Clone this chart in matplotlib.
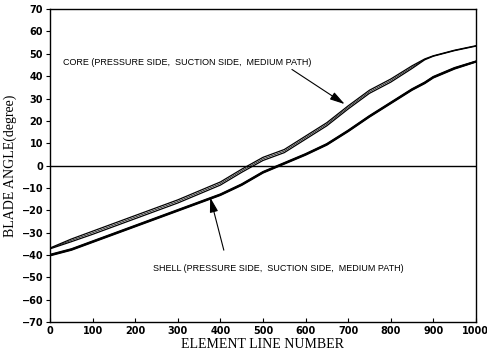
import matplotlib
matplotlib.use("Agg")
import matplotlib.pyplot as plt

# element line numbers where the curves were read off
X_PTS = [0, 50, 100, 150, 200, 250, 300, 350, 400, 450, 500,
         550, 600, 650, 700, 750, 800, 850, 880, 900, 950, 1000]

# core curves (pressure side, suction side, medium path)
CORE_PS = [-36.8, -32.8, -29.3, -25.8, -22.3, -18.8, -15.3, -11.3, -7.3, -1.6, 3.7,
           7.2, 13.2, 19.2, 26.7, 33.7, 38.7, 44.6, 47.7, 49.1, 51.6, 53.6]
CORE_SS = [-37.2, -34.0, -30.7, -27.2, -23.7, -20.2, -16.7, -12.7, -8.7, -3.0, 2.3,
           5.8, 11.8, 17.8, 25.3, 32.3, 37.3, 43.4, 47.3, 48.9, 51.4, 53.4]
CORE_MP = [-37.0, -33.4, -30.0, -26.5, -23.0, -19.5, -16.0, -12.0, -8.0, -2.3, 3.0,
           6.5, 12.5, 18.5, 26.0, 33.0, 38.0, 44.0, 47.5, 49.0, 51.5, 53.5]

# shell curves (pressure side, suction side, medium path)
SHELL_PS = [-39.8, -37.3, -33.8, -30.3, -26.8, -23.3, -19.8, -16.3, -12.8, -8.3, -2.8,
            1.2, 5.2, 9.7, 15.7, 22.2, 28.2, 34.2, 37.2, 39.7, 43.7, 46.6]
SHELL_SS = [-40.2, -37.7, -34.2, -30.7, -27.2, -23.7, -20.2, -16.7, -13.2, -8.7, -3.2,
            0.8, 4.8, 9.3, 15.3, 21.8, 27.8, 33.8, 36.8, 39.3, 43.3, 46.4]
SHELL_MP = [-40.0, -37.5, -34.0, -30.5, -27.0, -23.5, -20.0, -16.5, -13.0, -8.5, -3.0,
            1.0, 5.0, 9.5, 15.5, 22.0, 28.0, 34.0, 37.0, 39.5, 43.5, 46.5]

X_TICKS = list(range(0, 1001, 100))
Y_TICKS = list(range(-70, 71, 10))

CORE_TEXT = "CORE (PRESSURE SIDE,  SUCTION SIDE,  MEDIUM PATH)"
SHELL_TEXT = "SHELL (PRESSURE SIDE,  SUCTION SIDE,  MEDIUM PATH)"


def main():
    fig = plt.figure(figsize=(4.87, 3.62), dpi=100)
    ax = fig.add_axes([0.103, 0.11, 0.874, 0.865])

    for ys in (CORE_PS, CORE_SS):
        ax.plot(X_PTS, ys, color="black", linewidth=0.9)
    ax.plot(X_PTS, CORE_MP, color="black", linewidth=0.5)
    for ys in (SHELL_PS, SHELL_SS, SHELL_MP):
        ax.plot(X_PTS, ys, color="black", linewidth=1.3)

    ax.axhline(0, color="black", linewidth=1.0)

    ax.set_xlim(0, 1000)
    ax.set_ylim(-70, 70)
    ax.set_xticks(X_TICKS)
    ax.set_yticks(Y_TICKS)
    ax.tick_params(axis="x", direction="in", length=3, labelsize=7, pad=3)
    ax.tick_params(axis="y", direction="out", length=3, labelsize=7, pad=2)
    for lab in ax.get_xticklabels() + ax.get_yticklabels():
        lab.set_fontweight("bold")
    for sp in ax.spines.values():
        sp.set_linewidth(1.0)

    ax.set_xlabel("ELEMENT LINE NUMBER", family="Liberation Serif",
                  fontsize=10, labelpad=1)
    ax.set_ylabel("BLADE ANGLE(degree)", family="Liberation Serif",
                  fontsize=10, labelpad=3)

    ax.text(30, 46, CORE_TEXT, fontsize=6.5, family="Liberation Sans",
            va="center", ha="left")
    ax.text(242, -46, SHELL_TEXT, fontsize=6.5, family="Liberation Sans",
            va="center", ha="left")

    arrow = dict(arrowstyle="-|>,head_width=0.25,head_length=0.9",
                 color="black", linewidth=0.8, shrinkA=0, shrinkB=0)
    ax.annotate("", xy=(692, 27.5), xytext=(568, 43), arrowprops=arrow)
    ax.annotate("", xy=(376, -14.2), xytext=(408, -37.8), arrowprops=arrow)

    fig.savefig("out.png", dpi=100)


main()
